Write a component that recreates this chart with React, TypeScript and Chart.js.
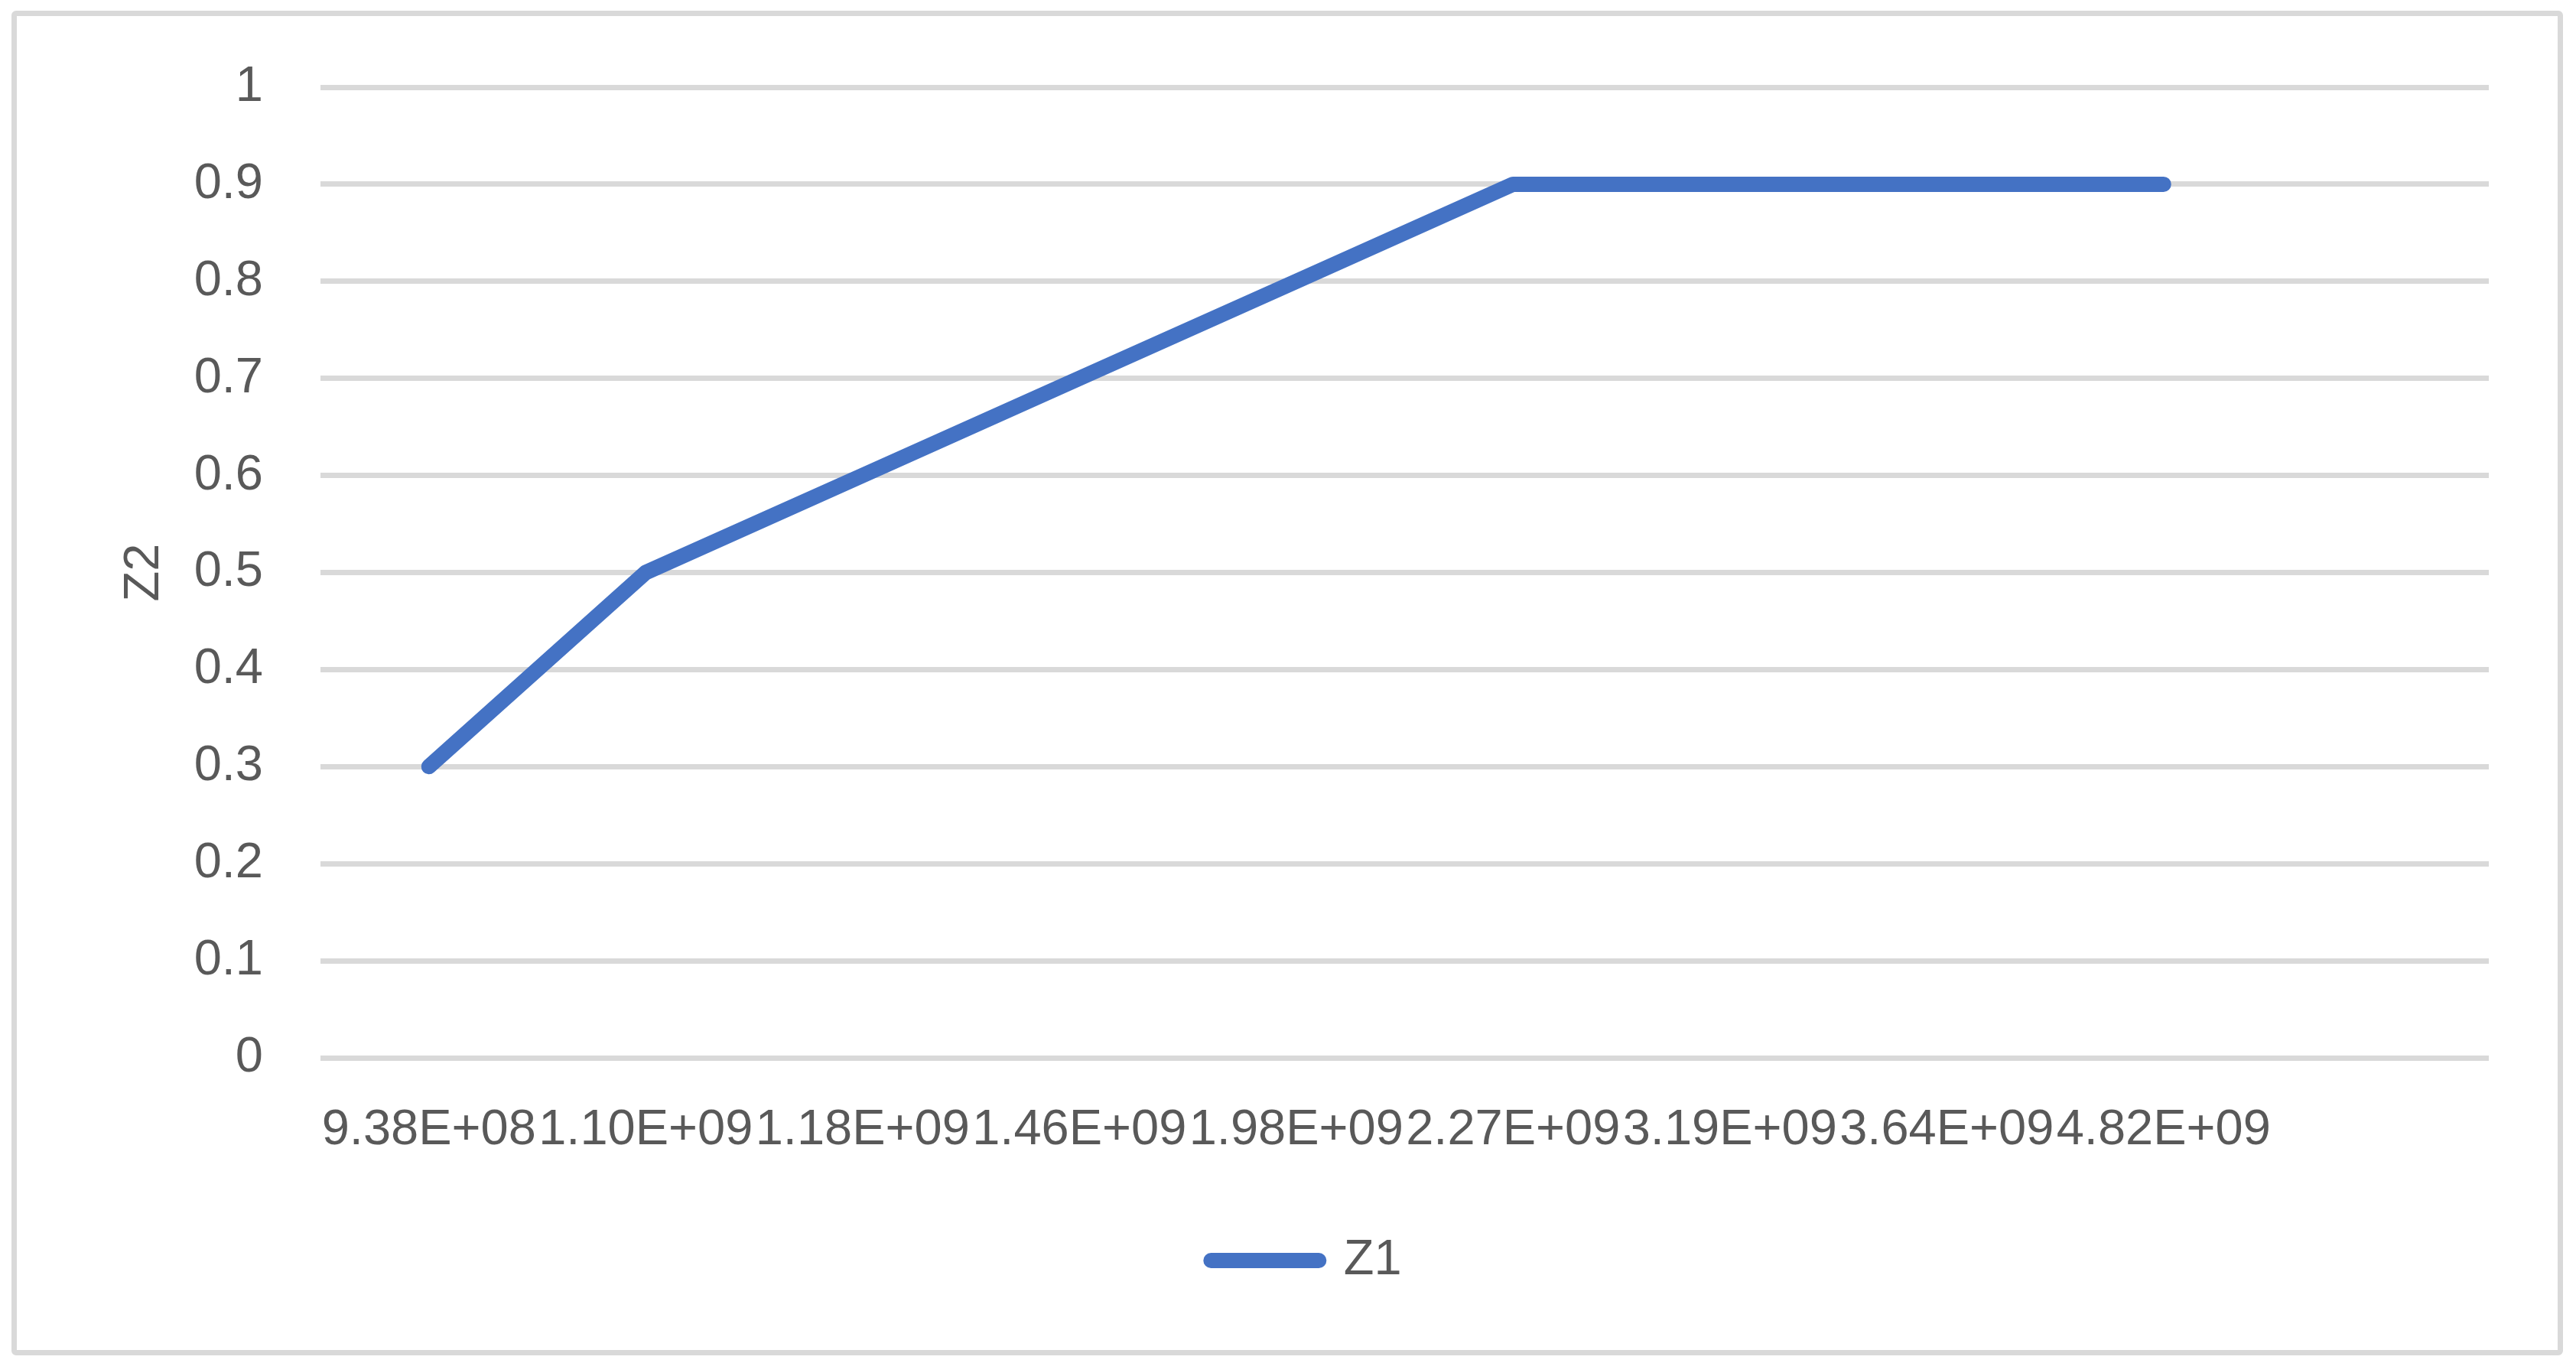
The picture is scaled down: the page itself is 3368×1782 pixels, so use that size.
import React, { useEffect, useRef } from "react";
import { Chart, registerables } from "chart.js";

Chart.register(...registerables);

const categories: string[] = [
  "9.38E+08",
  "1.10E+09",
  "1.18E+09",
  "1.46E+09",
  "1.98E+09",
  "2.27E+09",
  "3.19E+09",
  "3.64E+09",
  "4.82E+09",
  "",
];
const z1Values: (number | null)[] = [0.3, 0.5, 0.6, 0.7, 0.8, 0.9, 0.9, 0.9, 0.9, null];
const seriesName = "Z1";
const yAxisTitle = "Z2";
const yMin = 0;
const yMax = 1;
const yStep = 0.1;

const FONT = "'Liberation Sans', Arial, sans-serif";
const TEXT = "#595959";
const GRID = "#d9d9d9";
const BLUE = "#4472C4";

export default function App() {
  const ref = useRef<HTMLCanvasElement | null>(null);

  useEffect(() => {
    const canvas = ref.current;
    if (!canvas) return;
    const baseGen = (Chart as any).defaults.plugins.legend.labels.generateLabels;
    const chart = new Chart(canvas, {
      type: "line",
      data: {
        labels: categories,
        datasets: [
          {
            label: seriesName,
            data: z1Values,
            borderColor: BLUE,
            backgroundColor: BLUE,
            borderWidth: 20,
            borderCapStyle: "round",
            borderJoinStyle: "round",
            pointRadius: 0,
            pointHoverRadius: 0,
            tension: 0,
            fill: false,
          },
        ],
      },
      options: {
        responsive: false,
        animation: false,
        events: [],
        layout: { padding: { left: 162, right: 114, top: 108, bottom: 91.5 } },
        plugins: {
          tooltip: { enabled: false },
          title: { display: false },
          legend: {
            display: true,
            position: "bottom",
            align: "center",
            labels: {
              usePointStyle: true,
              pointStyle: "line",
              pointStyleWidth: 141,
              padding: 10,
              color: TEXT,
              font: { family: FONT, size: 65 },
              generateLabels: (c: any) =>
                baseGen(c).map((item: any) => ({
                  ...item,
                  lineCap: "round",
                  lineWidth: 20,
                  strokeStyle: BLUE,
                  fillStyle: BLUE,
                })),
            },
          },
        },
        scales: {
          x: {
            type: "category",
            offset: true,
            grid: { display: false, drawTicks: false },
            border: { display: false },
            ticks: {
              color: TEXT,
              font: { family: FONT, size: 65 },
              maxRotation: 0,
              minRotation: 0,
              autoSkip: false,
              padding: 56,
            },
            afterFit: (scale: any) => {
              scale.height = 222.5;
            },
          },
          y: {
            type: "linear",
            min: yMin,
            max: yMax,
            grid: { color: GRID, lineWidth: 7, drawTicks: false },
            border: { display: false },
            ticks: {
              stepSize: yStep,
              color: TEXT,
              font: { family: FONT, size: 65 },
              padding: 75,
              callback: (v: any) => String(Math.round(Number(v) * 10) / 10),
            },
            title: {
              display: true,
              text: yAxisTitle,
              color: TEXT,
              padding: 0,
              font: { family: FONT, size: 65, lineHeight: 0.83 },
            },
            afterFit: (scale: any) => {
              scale.width = 257;
            },
          },
        },
      },
    });
    return () => chart.destroy();
  }, []);

  return (
    <div>
      <div
        style={{
          position: "absolute",
          left: 15,
          top: 14,
          width: 3336,
          height: 1758,
          border: `7px solid ${GRID}`,
          borderRadius: 6,
          boxSizing: "border-box",
          background: "#ffffff",
        }}
      />
      <canvas
        ref={ref}
        width={3368}
        height={1782}
        style={{ position: "absolute", left: 0, top: 0, width: 3368, height: 1782, display: "block" }}
      />
    </div>
  );
}
